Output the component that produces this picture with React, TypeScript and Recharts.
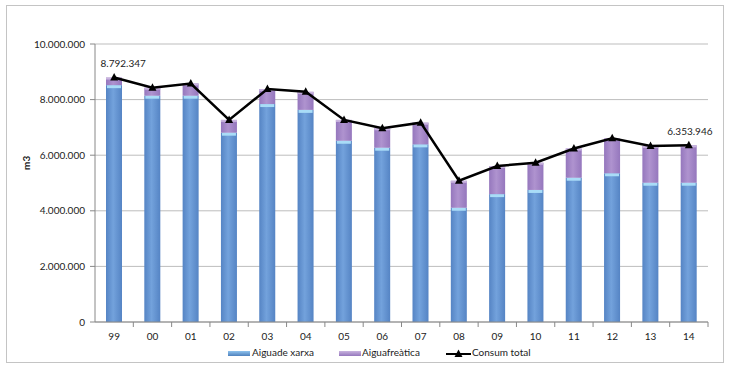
import React from "react";
import {
  ComposedChart,
  Bar,
  Line,
  XAxis,
  YAxis,
  CartesianGrid,
  LabelList,
} from "recharts";

// Anys (etiquetes de l'eix X)
const years = ["99", "00", "01", "02", "03", "04", "05", "06", "07", "08", "09", "10", "11", "12", "13", "14"];

// Aigua de xarxa (m3)
const xarxa = [
  8520000, 8140000, 8140000, 6810000, 7840000, 7630000, 6520000, 6270000,
  6390000, 4110000, 4600000, 4750000, 5190000, 5350000, 5010000, 5010000,
];

// Aigua freàtica (m3)
const freatica = [
  272347, 290000, 440000, 460000, 540000, 650000, 750000, 700000,
  780000, 970000, 1010000, 980000, 1050000, 1260000, 1320000, 1343946,
];

// Consum total (m3)
const total = [
  8792347, 8430000, 8580000, 7270000, 8380000, 8280000, 7270000, 6970000,
  7170000, 5080000, 5610000, 5730000, 6240000, 6610000, 6330000, 6353946,
];

const yTicks = [0, 2000000, 4000000, 6000000, 8000000, 10000000];

const data = years.map((y, i) => ({
  year: y,
  xarxa: xarxa[i],
  freatica: freatica[i],
  total: total[i],
}));

const W = 729;
const H = 370;
const M = { top: 44, right: 21, bottom: 18, left: 0 };
const Y_W = 95;
const HALF_BAND = (W - Y_W - M.right) / years.length / 2;
const FONT = "Lato, 'Liberation Sans', sans-serif";

const fmt = (v: number) => String(Math.round(v)).replace(/\B(?=(\d{3})+(?!\d))/g, ".");

const BlueBar = (p: any) => {
  const { x, y, width, height } = p;
  if (!height || height <= 0) return null;
  return (
    <g>
      <rect x={x} y={y} width={width} height={height} fill="url(#gBlue)" />
      <rect x={x + 1} y={y} width={width - 2} height={Math.min(3, height)} fill="#a9dcf7" />
    </g>
  );
};

const PurpleBar = (p: any) => {
  const { x, y, width, height } = p;
  if (!height || height <= 0) return null;
  return (
    <g>
      <rect x={x} y={y} width={width} height={height} fill="url(#gPurple)" />
      <rect x={x} y={y} width={width} height={Math.min(2, height)} fill="#c9b4df" />
    </g>
  );
};

const Triangle = (p: any) => {
  const { cx, cy } = p;
  if (cx == null || cy == null) return null;
  return <path d={`M${cx},${cy - 4.5} L${cx + 4},${cy + 3} L${cx - 4},${cy + 3} Z`} fill="#000" />;
};

const XTick = (p: any) => {
  const { x, y, payload } = p;
  return (
    <g>
      <line x1={x + HALF_BAND} x2={x + HALF_BAND} y1={y} y2={y + 5} stroke="#888" />
      <text x={x} y={y + 18} textAnchor="middle" fontSize={10} fill="#222" fontFamily={FONT}>
        {payload.value}
      </text>
    </g>
  );
};

const EndLabel = (p: any) => {
  const { x, y, index, value } = p;
  if (index === 0) {
    return (
      <text x={x + 9} y={y - 11} textAnchor="middle" fontSize={10} fill="#222" fontFamily={FONT}>
        {fmt(value)}
      </text>
    );
  }
  if (index === years.length - 1) {
    return (
      <text x={x + 1} y={y - 10} textAnchor="middle" fontSize={10} fill="#222" fontFamily={FONT}>
        {fmt(value)}
      </text>
    );
  }
  return null;
};

const LegendBox = () => (
  <div style={{ position: "absolute", left: 0, top: 346, width: W, height: 14, fontFamily: FONT, fontSize: 10, color: "#222" }}>
    <div style={{ position: "absolute", left: 228, top: 5, width: 22, height: 5, background: "linear-gradient(#8fc3ee, #4f81bd)" }} />
    <span style={{ position: "absolute", left: 252, top: 0 }}>Aiguade xarxa</span>
    <div style={{ position: "absolute", left: 339, top: 5, width: 22, height: 5, background: "linear-gradient(#c9b4df, #9577bd)" }} />
    <span style={{ position: "absolute", left: 362, top: 0 }}>Aiguafreàtica</span>
    <svg style={{ position: "absolute", left: 446, top: 1 }} width={25} height={12}>
      <line x1={0} x2={25} y1={7} y2={7} stroke="#000" strokeWidth={2} />
      <path d="M12.5,2.5 L16.5,10 L8.5,10 Z" fill="#000" />
    </svg>
    <span style={{ position: "absolute", left: 472, top: 0 }}>Consum total</span>
  </div>
);

export default function App() {
  return (
    <div style={{ position: "absolute", left: 0, top: 0, width: W, height: H, background: "#fff" }}>
      <div
        style={{
          position: "absolute",
          left: 6,
          top: 5,
          width: 716,
          height: 356,
          border: "1.5px solid #c4c4c4",
        }}
      />
      <div style={{ position: "absolute", left: 0, top: 0 }}>
        <ComposedChart width={W} height={H} data={data} margin={M}>
          <defs>
            <linearGradient id="gBlue" x1="0" y1="0" x2="1" y2="0">
              <stop offset="0%" stopColor="#5584c4" />
              <stop offset="45%" stopColor="#73a2dc" />
              <stop offset="100%" stopColor="#5584c4" />
            </linearGradient>
            <linearGradient id="gPurple" x1="0" y1="0" x2="1" y2="0">
              <stop offset="0%" stopColor="#9577bd" />
              <stop offset="45%" stopColor="#af93cf" />
              <stop offset="100%" stopColor="#9577bd" />
            </linearGradient>
          </defs>
          <CartesianGrid vertical={false} stroke="#bdbdbd" />
          <XAxis
            dataKey="year"
            height={30}
            axisLine={{ stroke: "#888" }}
            tickLine={false}
            tickSize={0}
            tickMargin={0}
            tick={<XTick />}
            interval={0}
          />
          <YAxis
            width={Y_W}
            domain={[0, 10000000]}
            ticks={yTicks}
            tickFormatter={fmt}
            axisLine={{ stroke: "#888" }}
            tickLine={{ stroke: "#888" }}
            tickSize={5}
            tickMargin={5}
            tick={{ fontSize: 10, fill: "#222", fontFamily: FONT }}
            label={{
              value: "m3",
              angle: -90,
              position: "insideLeft",
              offset: 26,
              dy: -13,
              style: { fontSize: 10, fontWeight: "bold", fill: "#222", fontFamily: FONT },
            }}
          />
          <Bar dataKey="xarxa" stackId="a" barSize={16} shape={<BlueBar />} isAnimationActive={false} />
          <Bar dataKey="freatica" stackId="a" barSize={16} shape={<PurpleBar />} isAnimationActive={false} />
          <Line
            dataKey="total"
            stroke="#000"
            strokeWidth={2.5}
            type="linear"
            dot={<Triangle />}
            activeDot={false}
            isAnimationActive={false}
          >
            <LabelList dataKey="total" content={<EndLabel />} />
          </Line>
        </ComposedChart>
      </div>
      <LegendBox />
    </div>
  );
}
